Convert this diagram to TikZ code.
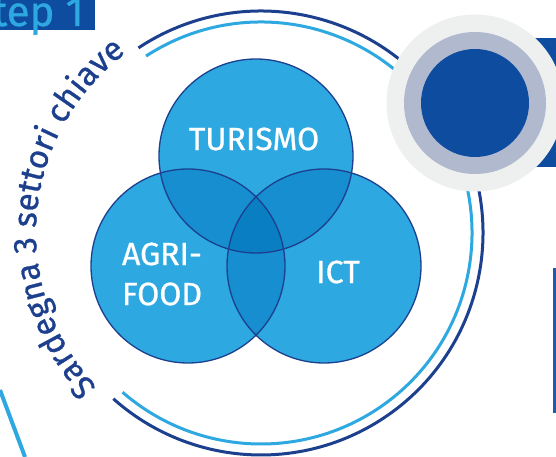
\documentclass[tikz,border=0pt]{standalone}
\usepackage{fontspec}
\setmainfont{Fira Sans}
\newfontfamily\medfont{Fira Sans}[FakeBold=0.8]
\usetikzlibrary{decorations.text}
\definecolor{navy}{RGB}{28,63,142}
\definecolor{deepblue}{RGB}{13,76,158}
\definecolor{skyblue}{RGB}{46,168,224}
\definecolor{pairblue}{RGB}{22,142,207}
\definecolor{tripleblue}{RGB}{10,126,194}
\definecolor{palegray}{RGB}{238,240,240}
\definecolor{lavender}{RGB}{177,185,207}
\definecolor{barblue}{RGB}{30,91,168}
\tikzset{
  ringdark/.style={draw=navy, line width=3pt},
  ringlight/.style={draw=skyblue, line width=3pt},
  venn/.style={draw=navy, line width=1.3pt},
  vlabel/.style={text=white, font=\medfont\fontsize{32}{40}\selectfont, align=center, inner sep=0pt},
}
\begin{document}
\begin{tikzpicture}[x=1pt,y=1pt]
\useasboundingbox (0,0) rectangle (556,457);
\clip (0,0) rectangle (556,457);
\fill[white] (0,0) rectangle (556,457);
% coordinates
\coordinate (RC) at (261,224);
\coordinate (T) at (256,301);
\coordinate (A) at (188,191);
\coordinate (I) at (324,191);
\coordinate (G) at (475,354);
% bottom-left light line
\coordinate (bl1) at (0,67);
\coordinate (bl2) at (25,0);
\draw[skyblue, line width=4pt] (bl1) -- (bl2);
% outer rings
\draw[ringdark] (RC) ++(123.5:222) arc[start angle=123.5, end angle=-131.7, radius=222];
\draw[ringlight] (RC) ++(123:211) arc[start angle=123, end angle=-131, radius=211];
% ring text
\path[decorate, decoration={text along path, text align=center,
  text={|\medfont\fontsize{33}{33}\selectfont\color{navy}|Sardegna 3 settori chiave}}]
  (RC) ++(226:225) arc[start angle=226, end angle=124, radius=225];
% right elements
\fill[deepblue] (535,290) rectangle (556,419);
\fill[barblue] (553,44) rectangle (556,189);
\fill[palegray] (G) circle (88.5);
\fill[lavender] (G) circle (71);
\fill[deepblue] (G) circle (54);
% step box
\fill[deepblue] (0,427) rectangle (95,457);
\node[anchor=base east, text=skyblue, font=\medfont\fontsize{42}{42}\selectfont, inner sep=0pt] (step) at (84,431) {Step 1};
% Venn
\fill[skyblue] (T) circle (97);
\fill[skyblue] (A) circle (97);
\fill[skyblue] (I) circle (97);
\begin{scope}
  \clip (T) circle (97);
  \fill[pairblue] (A) circle (97);
  \fill[pairblue] (I) circle (97);
\end{scope}
\begin{scope}
  \clip (A) circle (97);
  \fill[pairblue] (I) circle (97);
\end{scope}
\begin{scope}
  \clip (T) circle (97);
  \clip (A) circle (97);
  \fill[tripleblue] (I) circle (97);
\end{scope}
\draw[venn] (T) circle (97);
\draw[venn] (A) circle (97);
\draw[venn] (I) circle (97);
\node[vlabel] (tur) at (254,318) {TURISMO};
\node[vlabel] (agri) at (162,183) {AGRI-\\FOOD};
\node[vlabel] (ict) at (338,185) {ICT};
\end{tikzpicture}
\end{document}
